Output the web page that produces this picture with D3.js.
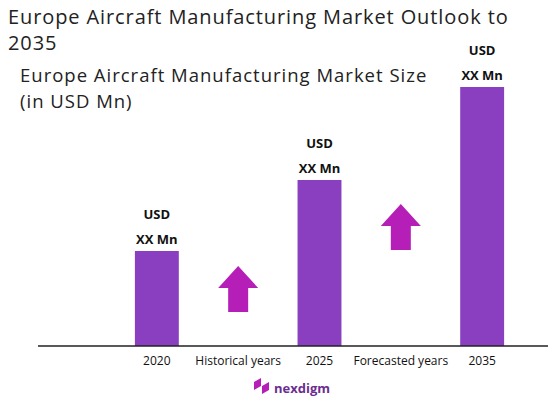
<!DOCTYPE html>
<html><head><meta charset="utf-8">
<script src="https://cdn.jsdelivr.net/npm/d3@7"></script>
<style>body{margin:0;background:#fff}text{font-family:"Open Sans",sans-serif}</style>
</head><body><svg id="c" width="550" height="408"></svg>
<script>
const categories = ["2020", "Historical years", "2025", "Forecasted years", "2035"]
const barYears = ["2020", "2025", "2035"]
const barValues = [95, 166, 259]
const barLabels = ["USD", "XX Mn"]
const arrowCats = ["Historical years", "Forecasted years"]
const arrowBase = [312, 250]

const svg = d3.select("#c")
const x = d3.scaleBand().domain(categories).range([117, 522]).paddingInner(0.46).paddingOuter(0.22)
const y = d3.scaleLinear().domain([0, 259]).range([346, 87])

// titles
svg.append("text").attr("x", 8).attr("y", 24).attr("font-size", 20).attr("letter-spacing", 0.9).attr("fill", "#222").text("Europe Aircraft Manufacturing Market Outlook to")
svg.append("text").attr("x", 8).attr("y", 50).attr("font-size", 20).attr("letter-spacing", 0.9).attr("fill", "#222").text("2035")
svg.append("text").attr("x", 20).attr("y", 82).attr("font-size", 18.5).attr("letter-spacing", 1).attr("fill", "#222").text("Europe Aircraft Manufacturing Market Size")
svg.append("text").attr("x", 20).attr("y", 108).attr("font-size", 18.5).attr("letter-spacing", 1).attr("fill", "#222").text("(in USD Mn)")

// bars
svg.selectAll("rect.bar").data(barYears).join("rect")
  .attr("x", d => x(d)).attr("width", x.bandwidth())
  .attr("y", (d, i) => y(barValues[i])).attr("height", (d, i) => y(0) - y(barValues[i]))
  .attr("fill", "#8a3fc0")

barYears.forEach((d, i) => {
  barLabels.forEach((t, j) => {
    svg.append("text").attr("x", x(d) + x.bandwidth() / 2).attr("y", y(barValues[i]) - 32 + j * 25)
      .attr("text-anchor", "middle").attr("font-size", 13).attr("font-weight", "bold").attr("fill", "#111").text(t)
  })
})

// arrows
arrowCats.forEach((c, i) => {
  const cx = x(c) + x.bandwidth() / 2, b = arrowBase[i]
  const pts = [[cx - 10, b], [cx - 10, b - 24], [cx - 20, b - 24], [cx, b - 46], [cx + 20, b - 24], [cx + 10, b - 24], [cx + 10, b]]
  svg.append("path").attr("d", d3.line()(pts) + "Z").attr("fill", "#b51fb8")
})

// axis
svg.append("line").attr("x1", 38).attr("x2", 548).attr("y1", 346).attr("y2", 346).attr("stroke", "#222").attr("stroke-width", 1.5)
svg.selectAll("text.cat").data(categories).join("text")
  .attr("x", d => x(d) + x.bandwidth() / 2).attr("y", 365).attr("text-anchor", "middle")
  .attr("font-size", 12).attr("fill", "#111").text(d => d)

// logo
svg.append("path").attr("d", "M254 382 l7 -4 l0 8 l-7 4 Z M262 386 l7 -4 l0 8 l-7 4 Z").attr("fill", "#b51fb8")
svg.append("text").attr("x", 274).attr("y", 393).attr("font-size", 13).attr("font-weight", "bold").attr("fill", "#6b2d8f").text("nexdigm")
</script></body></html>
